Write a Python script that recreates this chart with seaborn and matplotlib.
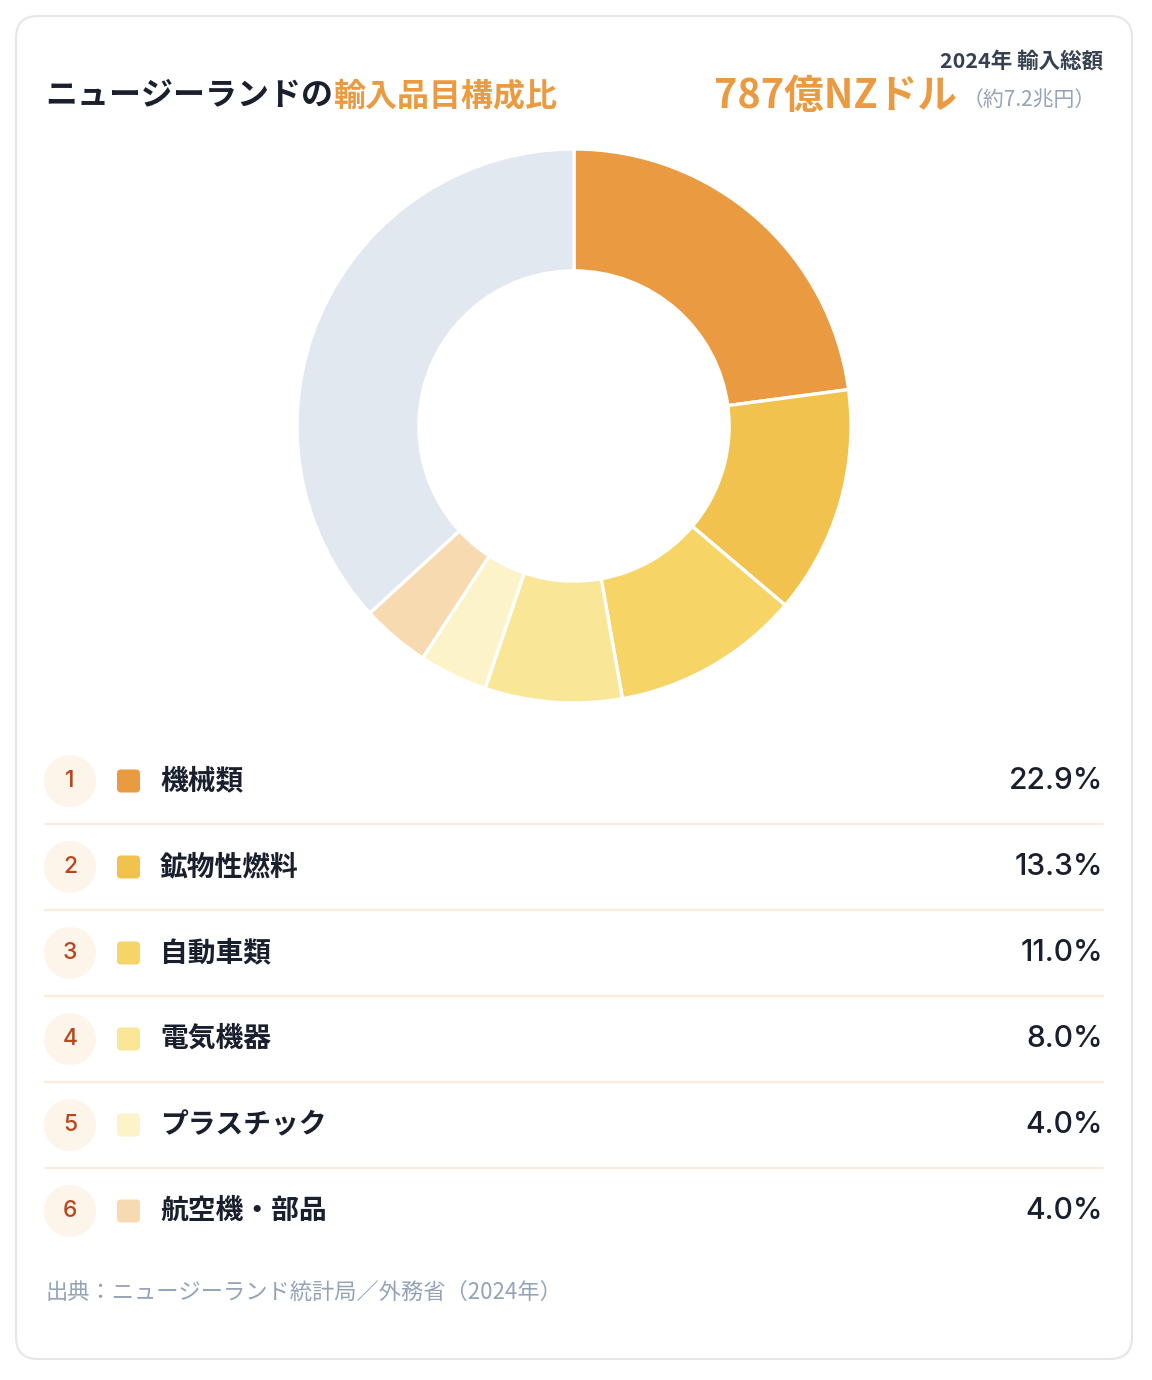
import pandas as pd
import seaborn as sns
import matplotlib.pyplot as plt
from matplotlib.patches import FancyBboxPatch

# data
categories = ['機械類', '鉱物性燃料', '自動車類', '電気機器', 'プラスチック', '航空機・部品']
shares = [22.9, 13.3, 11.0, 8.0, 4.0, 4.0]
other_share = round(100 - sum(shares), 1)
colors = ['#EA9A40', '#F2C24E', '#F6D466', '#F9E797', '#FCF3C9', '#F8DAB0']
other_color = '#E2E8F0'
ranks = [1, 2, 3, 4, 5, 6]

sns.set_theme(style='white')
plt.rcParams['font.family'] = ['Noto Sans CJK JP', 'DejaVu Sans']
num_font = ['Inter', 'Noto Sans CJK JP', 'DejaVu Sans']

W, H = 1152, 1380
fig = plt.figure(figsize=(W / 100, H / 100), dpi=100)
fig.patch.set_facecolor('white')

bg = fig.add_axes([0, 0, 1, 1])
bg.set_xlim(0, W)
bg.set_ylim(H, 0)
bg.axis('off')

card = FancyBboxPatch((16, 16), 1116, 1343, boxstyle='round,pad=0,rounding_size=22',
                      fc='white', ec='#E3E6EB', lw=1.5, zorder=0)
bg.add_patch(card)

renderer = fig.canvas.get_renderer()

# title
t1 = bg.text(45, 96, 'ニュージーランドの', fontsize=23, fontweight='bold',
             color='#1A1F2E', ha='left', va='center')
x_end = t1.get_window_extent(renderer=renderer).x1
bg.text(x_end, 96, '輸入品目構成比', fontsize=23, fontweight='bold',
        color='#EA9A40', ha='left', va='center')

# total on the right
bg.text(1103, 61, '2024年 輸入総額', fontsize=15.5, fontweight='bold',
        color='#374151', ha='right', va='center')
t2 = bg.text(1096, 100, '（約7.2兆円）', fontsize=15, color='#94A3B8',
             ha='right', va='center')
x_start = t2.get_window_extent(renderer=renderer).x0
bg.text(x_start - 6, 96, '787億NZドル', fontsize=28.5, fontweight='bold',
        color='#EA9A40', ha='right', va='center')

# donut
cx, cy, r = 574, 426, 277
ax = fig.add_axes([(cx - r) / W, 1 - (cy + r) / H, 2 * r / W, 2 * r / H])
ax.pie(shares + [other_share], colors=colors + [other_color], startangle=90,
       counterclock=False, radius=1,
       wedgeprops=dict(width=0.44, edgecolor='white', linewidth=2.4))
ax.set_xlim(-1.0, 1.0)
ax.set_ylim(-1.0, 1.0)
ax.axis('off')

# list
row_y0, step = 781, 86
df = pd.DataFrame({'rank': ranks, 'label': categories, 'share': shares, 'color': colors})
df['y'] = row_y0 + (df['rank'] - 1) * step
df['x'] = 70

sns.scatterplot(data=df, x='x', y='y', ax=bg, s=1400, color='#FDF4EA',
                edgecolor='none', legend=False, zorder=2)

for _, row in df.iterrows():
    y = row['y']
    bg.text(70, y, str(row['rank']), fontsize=16.5, color='#B9461C', family=num_font,
            fontweight='medium', ha='center', va='center', zorder=3)
    sq = FancyBboxPatch((117, y - 11.5), 23, 23, boxstyle='round,pad=0,rounding_size=4',
                        fc=row['color'], ec='none', zorder=3)
    bg.add_patch(sq)
    bg.text(160, y, row['label'], fontsize=20, fontweight='bold', color='#1A1F2E',
            ha='left', va='center', zorder=3)
    bg.text(1103, y, f"{row['share']:.1f}%", fontsize=21.5, color='#1A1F2E', family=num_font,
            fontweight='medium', ha='right', va='center', zorder=3)
    if row['rank'] < len(df):
        bg.plot([45, 1103], [y + step / 2, y + step / 2], color='#FBEBD9', lw=1.6, zorder=1)

bg.text(45, 1292, '出典：ニュージーランド統計局／外務省（2024年）', fontsize=16,
        color='#94A3B8', ha='left', va='center')

fig.savefig('out.png', dpi=100, facecolor='white')
